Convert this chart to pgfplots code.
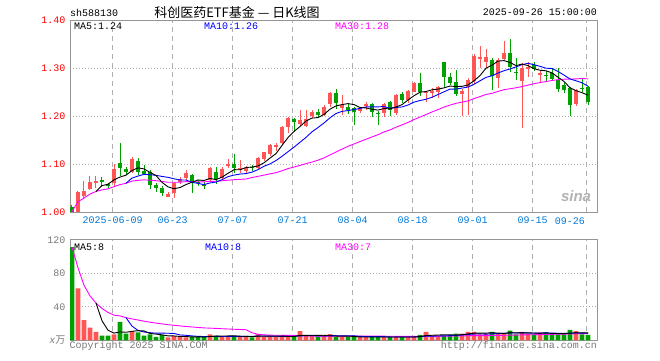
\documentclass[border=0pt]{standalone}
\usepackage{pgfplots}
\pgfplotsset{compat=1.18}
\usepackage{pgfplotstable}
\usepackage{fontspec}
\setmainfont{Liberation Sans}
\newfontfamily\mono{Liberation Mono}
\newfontfamily\cjk{Noto Sans CJK SC}
\definecolor{upred}{RGB}{255,85,85}
\definecolor{dngreen}{RGB}{0,160,0}
\definecolor{datblue}{RGB}{0,120,215}
\definecolor{bordergray}{RGB}{150,150,150}
\definecolor{gridgray}{RGB}{175,175,175}
\definecolor{txtgray}{RGB}{120,120,120}
\definecolor{mablue}{RGB}{0,0,255}
\definecolor{mamag}{RGB}{255,0,255}

\pgfplotstableread{
i o h l c v
1 1.001 1.043 0.999 1.042 62
2 1.033 1.065 1.029 1.044 24
3 1.048 1.076 1.046 1.063 15
4 1.063 1.074 1.049 1.064 10
7 1.060 1.101 1.055 1.090 7
10 1.084 1.114 1.081 1.110 11
16 1.032 1.042 1.031 1.037 3.5
17 1.039 1.063 1.029 1.060 5
18 1.062 1.072 1.058 1.068 4
19 1.070 1.088 1.066 1.082 3.5
23 1.067 1.093 1.063 1.091 7
25 1.070 1.093 1.066 1.089 5
26 1.096 1.110 1.091 1.101 4.5
28 1.089 1.108 1.081 1.090 4.5
29 1.085 1.095 1.080 1.092 4.5
31 1.091 1.114 1.089 1.113 7.5
32 1.110 1.126 1.106 1.124 4.5
33 1.121 1.142 1.117 1.140 4.5
34 1.137 1.143 1.128 1.138 4.5
35 1.143 1.180 1.140 1.178 4.5
36 1.178 1.198 1.165 1.196 4.5
38 1.183 1.213 1.180 1.192 11
39 1.179 1.213 1.178 1.194 5
40 1.200 1.212 1.195 1.209 5
42 1.202 1.222 1.200 1.219 5
43 1.225 1.250 1.219 1.247 7.5
45 1.216 1.244 1.202 1.223 4
48 1.211 1.218 1.206 1.216 4
49 1.221 1.230 1.213 1.224 4
52 1.206 1.228 1.197 1.225 4
54 1.206 1.246 1.203 1.244 4
56 1.233 1.255 1.228 1.253 4
57 1.251 1.271 1.249 1.269 4
59 1.247 1.252 1.230 1.251 10
60 1.249 1.258 1.237 1.251 5.5
61 1.251 1.262 1.237 1.260 5.5
65 1.246 1.256 1.200 1.253 8
66 1.261 1.279 1.202 1.274 10
67 1.272 1.330 1.266 1.326 10
68 1.321 1.346 1.300 1.322 7
69 1.313 1.340 1.300 1.323 8
71 1.279 1.320 1.258 1.317 8
72 1.319 1.356 1.316 1.331 8
75 1.273 1.310 1.174 1.300 10
76 1.299 1.312 1.282 1.301 8
78 1.287 1.296 1.271 1.288 9.5
84 1.224 1.256 1.221 1.254 11
}\up

\pgfplotstableread{
i o h l c v
0 1.010 1.015 0.999 1.001 111
5 1.067 1.072 1.053 1.062 5.5
6 1.058 1.061 1.049 1.056 5.5
8 1.103 1.144 1.074 1.092 22
9 1.089 1.094 1.077 1.084 8
11 1.106 1.113 1.077 1.084 9.5
12 1.085 1.098 1.077 1.079 5.5
13 1.083 1.088 1.048 1.056 7
14 1.056 1.060 1.042 1.051 4
15 1.051 1.054 1.033 1.039 6.5
20 1.077 1.080 1.040 1.063 4
21 1.063 1.066 1.055 1.061 4
22 1.058 1.062 1.048 1.054 4
24 1.083 1.093 1.058 1.068 5.5
27 1.101 1.121 1.081 1.092 5
30 1.094 1.097 1.086 1.093 3.5
37 1.193 1.195 1.167 1.187 4.5
41 1.209 1.214 1.198 1.202 4
44 1.247 1.256 1.215 1.228 4
46 1.219 1.224 1.204 1.212 4
47 1.216 1.218 1.181 1.209 4
50 1.225 1.228 1.197 1.209 4
51 1.207 1.210 1.181 1.204 4
53 1.230 1.232 1.200 1.212 4
55 1.246 1.250 1.227 1.233 4
58 1.269 1.289 1.242 1.249 6.5
62 1.313 1.313 1.258 1.282 5.5
63 1.282 1.289 1.264 1.268 6.5
64 1.271 1.296 1.242 1.246 8
70 1.317 1.320 1.254 1.284 10
73 1.331 1.360 1.292 1.303 11.5
74 1.292 1.320 1.275 1.290 7
77 1.306 1.312 1.293 1.298 7
79 1.286 1.294 1.272 1.284 9.5
80 1.289 1.300 1.272 1.278 7
81 1.275 1.300 1.250 1.256 7
82 1.265 1.269 1.248 1.254 7
83 1.259 1.261 1.200 1.222 12.5
85 1.259 1.280 1.250 1.257 7
86 1.261 1.263 1.223 1.230 6.5
}\dn

\pgfplotsset{
  kbase/.style={
    scale only axis, anchor=south west, width=527pt,
    xmin=-0.333, xmax=87.5,
    axis line style={bordergray, line width=1pt},
    major tick length=0pt, tick style={draw=none},
    xtick={6.78,16.78,26.78,36.78,46.78,56.78,66.78,76.78},
    xmajorgrids, ymajorgrids,
    major x grid style={gridgray, dash pattern=on 5pt off 4pt, line width=0.9pt},
    major y grid style={gridgray, dash pattern=on 1pt off 2pt, line width=0.9pt},
    extra x ticks={85.78}, extra x tick labels={},
    extra x tick style={grid=major},
  },
  nomark/.style={only marks, mark=*, mark size=0pt, mark options={draw=none, fill=none}, forget plot},
  wick/.style={nomark,
    error bars/.cd, y dir=both, y explicit, error mark=none,
    error bar style={line width=1pt, draw=#1}},
  body/.style={nomark,
    error bars/.cd, y dir=both, y explicit, error mark=none,
    error bar style={line width=4.6pt, draw=#1}},
}

\begin{document}
\begin{tikzpicture}
\path[use as bounding box] (0pt,0pt) rectangle (660pt,360pt);

% ---------- price panel ----------
\begin{axis}[kbase,
  at={(70pt,148pt)}, height=192pt,
  ymin=1.0, ymax=1.4,
  ytick={1.0,1.1,1.2,1.3,1.4},
  yticklabels={1.00,1.10,1.20,1.30,1.40},
  yticklabel style={font=\mono\fontsize{10}{12}\selectfont, text=red, xshift=-1pt},
  xticklabels={2025-06-09,06-23,07-07,07-21,08-04,08-18,09-01,09-15},
  xticklabel style={font=\mono\fontsize{10}{12}\selectfont, text=datblue, yshift=-1pt},
]
\addplot[wick=upred] table[x=i, y expr={(\thisrow{h}+\thisrow{l})/2}, y error expr={(\thisrow{h}-\thisrow{l})/2}] {\up};
\addplot[body=upred] table[x=i, y expr={(\thisrow{o}+\thisrow{c})/2}, y error expr={max(abs(\thisrow{c}-\thisrow{o})/2,0.0012)}] {\up};
\addplot[wick=dngreen] table[x=i, y expr={(\thisrow{h}+\thisrow{l})/2}, y error expr={(\thisrow{h}-\thisrow{l})/2}] {\dn};
\addplot[body=dngreen] table[x=i, y expr={(\thisrow{o}+\thisrow{c})/2}, y error expr={max(abs(\thisrow{c}-\thisrow{o})/2,0.0012)}] {\dn};

% MA30
\addplot[mamag, line width=0.9pt] coordinates {(0,1.001)(1,1.0215)(2,1.029)(3,1.0375)(4,1.0428)(5,1.046)(6,1.0483)(7,1.0528)(8,1.0571)(9,1.0598)(10,1.0644)(11,1.066)(12,1.067)(13,1.0662)(14,1.0652)(15,1.0636)(16,1.062)(17,1.0619)(18,1.0622)(19,1.0632)(20,1.0632)(21,1.0631)(22,1.0627)(23,1.0639)(24,1.064)(25,1.065)(26,1.0663)(27,1.0673)(28,1.068)(29,1.0688)(30,1.0719)(31,1.0743)(32,1.0769)(33,1.0795)(34,1.082)(35,1.0858)(36,1.0905)(37,1.0937)(38,1.0971)(39,1.1007)(40,1.104)(41,1.108)(42,1.1126)(43,1.119)(44,1.1249)(45,1.131)(46,1.1369)(47,1.1418)(48,1.1468)(49,1.1515)(50,1.1564)(51,1.1611)(52,1.1668)(53,1.1709)(54,1.1767)(55,1.1815)(56,1.1866)(57,1.1925)(58,1.1978)(59,1.2031)(60,1.2084)(61,1.2133)(62,1.2185)(63,1.2228)(64,1.2264)(65,1.2289)(66,1.2315)(67,1.2362)(68,1.2405)(69,1.2448)(70,1.2473)(71,1.2511)(72,1.2549)(73,1.2567)(74,1.2588)(75,1.2614)(76,1.2643)(77,1.2673)(78,1.2697)(79,1.2717)(80,1.274)(81,1.2757)(82,1.2767)(83,1.277)(84,1.2773)(85,1.2781)(86,1.2774)};
% MA10
\addplot[mablue, line width=0.9pt] coordinates {(9,1.0598)(10,1.0707)(11,1.0749)(12,1.0784)(13,1.0777)(14,1.0764)(15,1.0741)(16,1.0722)(17,1.0692)(18,1.0668)(19,1.0666)(20,1.0619)(21,1.0596)(22,1.0571)(23,1.0605)(24,1.0623)(25,1.0673)(26,1.0737)(27,1.0769)(28,1.079)(29,1.0801)(30,1.0831)(31,1.0883)(32,1.0953)(33,1.1002)(34,1.1072)(35,1.1161)(36,1.1256)(37,1.1351)(38,1.1453)(39,1.1555)(40,1.1671)(41,1.176)(42,1.1855)(43,1.1962)(44,1.2052)(45,1.2097)(46,1.2113)(47,1.2135)(48,1.2159)(49,1.2189)(50,1.2189)(51,1.2191)(52,1.2197)(53,1.2162)(54,1.2178)(55,1.2188)(56,1.2229)(57,1.2289)(58,1.2322)(59,1.2349)(60,1.2391)(61,1.2447)(62,1.2504)(63,1.256)(64,1.2562)(65,1.2582)(66,1.2603)(67,1.266)(68,1.2733)(69,1.2805)(70,1.2838)(71,1.2895)(72,1.2944)(73,1.2979)(74,1.3023)(75,1.307)(76,1.3097)(77,1.3069)(78,1.3035)(79,1.2996)(80,1.299)(81,1.2929)(82,1.2852)(83,1.2771)(84,1.2735)(85,1.2692)(86,1.2621)};
% MA5
\addplot[black, line width=0.9pt] coordinates {(4,1.0428)(5,1.055)(6,1.0578)(7,1.067)(8,1.0728)(9,1.0768)(10,1.0864)(11,1.092)(12,1.0898)(13,1.0826)(14,1.076)(15,1.0618)(16,1.0524)(17,1.0486)(18,1.051)(19,1.0572)(20,1.062)(21,1.0668)(22,1.0656)(23,1.070)(24,1.0674)(25,1.0726)(26,1.0806)(27,1.0882)(28,1.088)(29,1.0928)(30,1.0936)(31,1.096)(32,1.1024)(33,1.1124)(34,1.1216)(35,1.1386)(36,1.1552)(37,1.1678)(38,1.1782)(39,1.1894)(40,1.1956)(41,1.1968)(42,1.2032)(43,1.2142)(44,1.221)(45,1.2238)(46,1.2258)(47,1.2238)(48,1.2176)(49,1.2168)(50,1.214)(51,1.2124)(52,1.2156)(53,1.2148)(54,1.2188)(55,1.2236)(56,1.2334)(57,1.2422)(58,1.2496)(59,1.251)(60,1.2546)(61,1.256)(62,1.2586)(63,1.2624)(64,1.2614)(65,1.2618)(66,1.2646)(67,1.2734)(68,1.2842)(69,1.2996)(70,1.3058)(71,1.3144)(72,1.3154)(73,1.3116)(74,1.305)(75,1.3082)(76,1.305)(77,1.2984)(78,1.2954)(79,1.2942)(80,1.2898)(81,1.2808)(82,1.272)(83,1.2588)(84,1.2528)(85,1.2486)(86,1.2434)};
\end{axis}

% ---------- volume panel ----------
\begin{axis}[kbase,
  at={(70pt,19.7pt)}, height=100.6pt,
  ymin=0, ymax=120,
  ytick={0,40,80,120},
  yticklabels={{\itshape x\cjk 万},40,80,120},
  yticklabel style={font=\mono\fontsize{10}{12}\selectfont, text=txtgray, xshift=-1pt},
  xticklabels={},
]
\addplot[ybar, bar width=4.6pt, bar shift=0pt, fill=upred, draw=none, forget plot] table[x=i, y=v] {\up};
\addplot[ybar, bar width=4.6pt, bar shift=0pt, fill=dngreen, draw=none, forget plot] table[x=i, y=v] {\dn};
% vol MA30
\addplot[mamag, line width=0.9pt] coordinates {(0,111)(1,86.5)(2,65.7)(3,53)(4,44.4)(5,37.9)(6,33.3)(7,30)(8,29.1)(9,27)(10,25.5)(11,24.2)(12,22.8)(13,21.6)(14,20.5)(15,19.6)(16,18.6)(17,17.9)(18,17.2)(19,16.5)(20,15.9)(21,15.3)(22,14.8)(23,14.5)(24,14.2)(25,13.8)(26,13.5)(27,13.2)(28,12.9)(29,12.6)(30,9.0)(31,7.18)(32,6.53)(33,6.18)(34,6.0)(35,5.97)(36,5.93)(37,5.85)(38,5.48)(39,5.38)(40,5.18)(41,5.0)(42,4.98)(43,5.0)(44,5.0)(45,4.92)(46,4.93)(47,4.9)(48,4.9)(49,4.92)(50,4.92)(51,4.92)(52,4.92)(53,4.82)(54,4.77)(55,4.73)(56,4.72)(57,4.68)(58,4.75)(59,4.93)(60,5.0)(61,4.93)(62,4.97)(63,5.03)(64,5.15)(65,5.27)(66,5.45)(67,5.63)(68,5.5)(69,5.6)(70,5.77)(71,5.9)(72,6.0)(73,6.13)(74,6.23)(75,6.43)(76,6.57)(77,6.67)(78,6.85)(79,7.03)(80,7.13)(81,7.23)(82,7.33)(83,7.62)(84,7.85)(85,7.95)(86,8.03)};
% vol MA10
\addplot[mablue, line width=0.9pt] coordinates {(9,27)(10,17)(11,11.75)(12,9.9)(13,9.1)(14,8.5)(15,8.6)(16,8.4)(17,8.2)(18,6.4)(19,5.95)(20,5.25)(21,4.7)(22,4.55)(23,4.55)(24,4.7)(25,4.55)(26,4.65)(27,4.65)(28,4.7)(29,4.8)(30,4.75)(31,5.1)(32,5.15)(33,4.9)(34,4.8)(35,4.75)(36,4.75)(37,4.7)(38,5.35)(39,5.4)(40,5.55)(41,5.2)(42,5.25)(43,5.55)(44,5.5)(45,5.45)(46,5.4)(47,5.35)(48,4.65)(49,4.55)(50,4.45)(51,4.45)(52,4.35)(53,4)(54,4)(55,4)(56,4)(57,4)(58,4.25)(59,4.85)(60,5)(61,5.15)(62,5.3)(63,5.55)(64,5.95)(65,6.35)(66,6.95)(67,7.55)(68,7.6)(69,7.4)(70,7.85)(71,8.1)(72,8.35)(73,8.85)(74,8.75)(75,8.95)(76,8.75)(77,8.45)(78,8.7)(79,8.85)(80,8.55)(81,8.45)(82,8.35)(83,8.45)(84,8.85)(85,8.55)(86,8.4)};
% vol MA5
\addplot[black, line width=0.9pt] coordinates {(4,44.4)(5,23.3)(6,12)(7,8.6)(8,10)(9,9.6)(10,10.7)(11,11.5)(12,11.2)(13,8.2)(14,7.4)(15,6.5)(16,5.3)(17,5.2)(18,4.6)(19,4.5)(20,4)(21,4.1)(22,3.9)(23,4.5)(24,4.9)(25,5.1)(26,5.2)(27,5.4)(28,4.9)(29,4.7)(30,4.4)(31,5)(32,4.9)(33,4.9)(34,4.9)(35,5.1)(36,4.5)(37,4.5)(38,5.8)(39,5.9)(40,6)(41,5.9)(42,6)(43,5.3)(44,5.1)(45,4.9)(46,4.9)(47,4.7)(48,4)(49,4)(50,4)(51,4)(52,4)(53,4)(54,4)(55,4)(56,4)(57,4)(58,4.5)(59,5.7)(60,6)(61,6.3)(62,6.6)(63,6.6)(64,6.2)(65,6.7)(66,7.6)(67,8.5)(68,8.6)(69,8.6)(70,9)(71,8.6)(72,8.2)(73,9.1)(74,8.9)(75,8.9)(76,8.9)(77,8.7)(78,8.3)(79,8.8)(80,8.2)(81,8)(82,8)(83,8.6)(84,8.9)(85,8.9)(86,8.8)};
\end{axis}

% ---------- texts ----------
\node[anchor=west, inner sep=0pt, font=\mono\fontsize{10}{12}\selectfont] at (70pt,346.7pt) {sh588130};
\node[inner sep=0pt, font=\cjk\fontsize{13}{15}\selectfont] at (237pt,347.3pt) {科创医药ETF基金 — 日K线图};
\node[anchor=east, inner sep=0pt, font=\mono\fontsize{10}{12}\selectfont] at (597pt,347.3pt) {2025-09-26 15:00:00};
\node[anchor=east, inner sep=0pt, font=\mono\fontsize{10}{12}\selectfont, text=datblue] at (585pt,139pt) {09-26};

\node[anchor=west, inner sep=0pt, font=\mono\fontsize{10}{12}\selectfont] at (74pt,333.7pt) {MA5:1.24};
\node[anchor=west, inner sep=0pt, font=\mono\fontsize{10}{12}\selectfont, text=mablue] at (204pt,333.7pt) {MA10:1.26};
\node[anchor=west, inner sep=0pt, font=\mono\fontsize{10}{12}\selectfont, text=mamag] at (335pt,333.7pt) {MA30:1.28};

\node[anchor=west, inner sep=0pt, font=\mono\fontsize{10}{12}\selectfont] at (74pt,113.3pt) {MA5:8};
\node[anchor=west, inner sep=0pt, font=\mono\fontsize{10}{12}\selectfont, text=mablue] at (205pt,113.3pt) {MA10:8};
\node[anchor=west, inner sep=0pt, font=\mono\fontsize{10}{12}\selectfont, text=mamag] at (335pt,113.3pt) {MA30:7};

\node[anchor=west, inner sep=0pt, font=\mono\fontsize{10}{12}\selectfont, text=txtgray] at (69.5pt,14.5pt) {Copyright 2025 SINA.COM};
\node[anchor=east, inner sep=0pt, font=\mono\fontsize{10}{12}\selectfont, text=txtgray] at (597pt,14.5pt) {http://finance.sina.com.cn};

\node[inner sep=0pt, font=\bfseries\itshape\fontsize{15}{16}\selectfont, text=black!30] at (576pt,164pt) {sina};
\end{tikzpicture}
\end{document}
